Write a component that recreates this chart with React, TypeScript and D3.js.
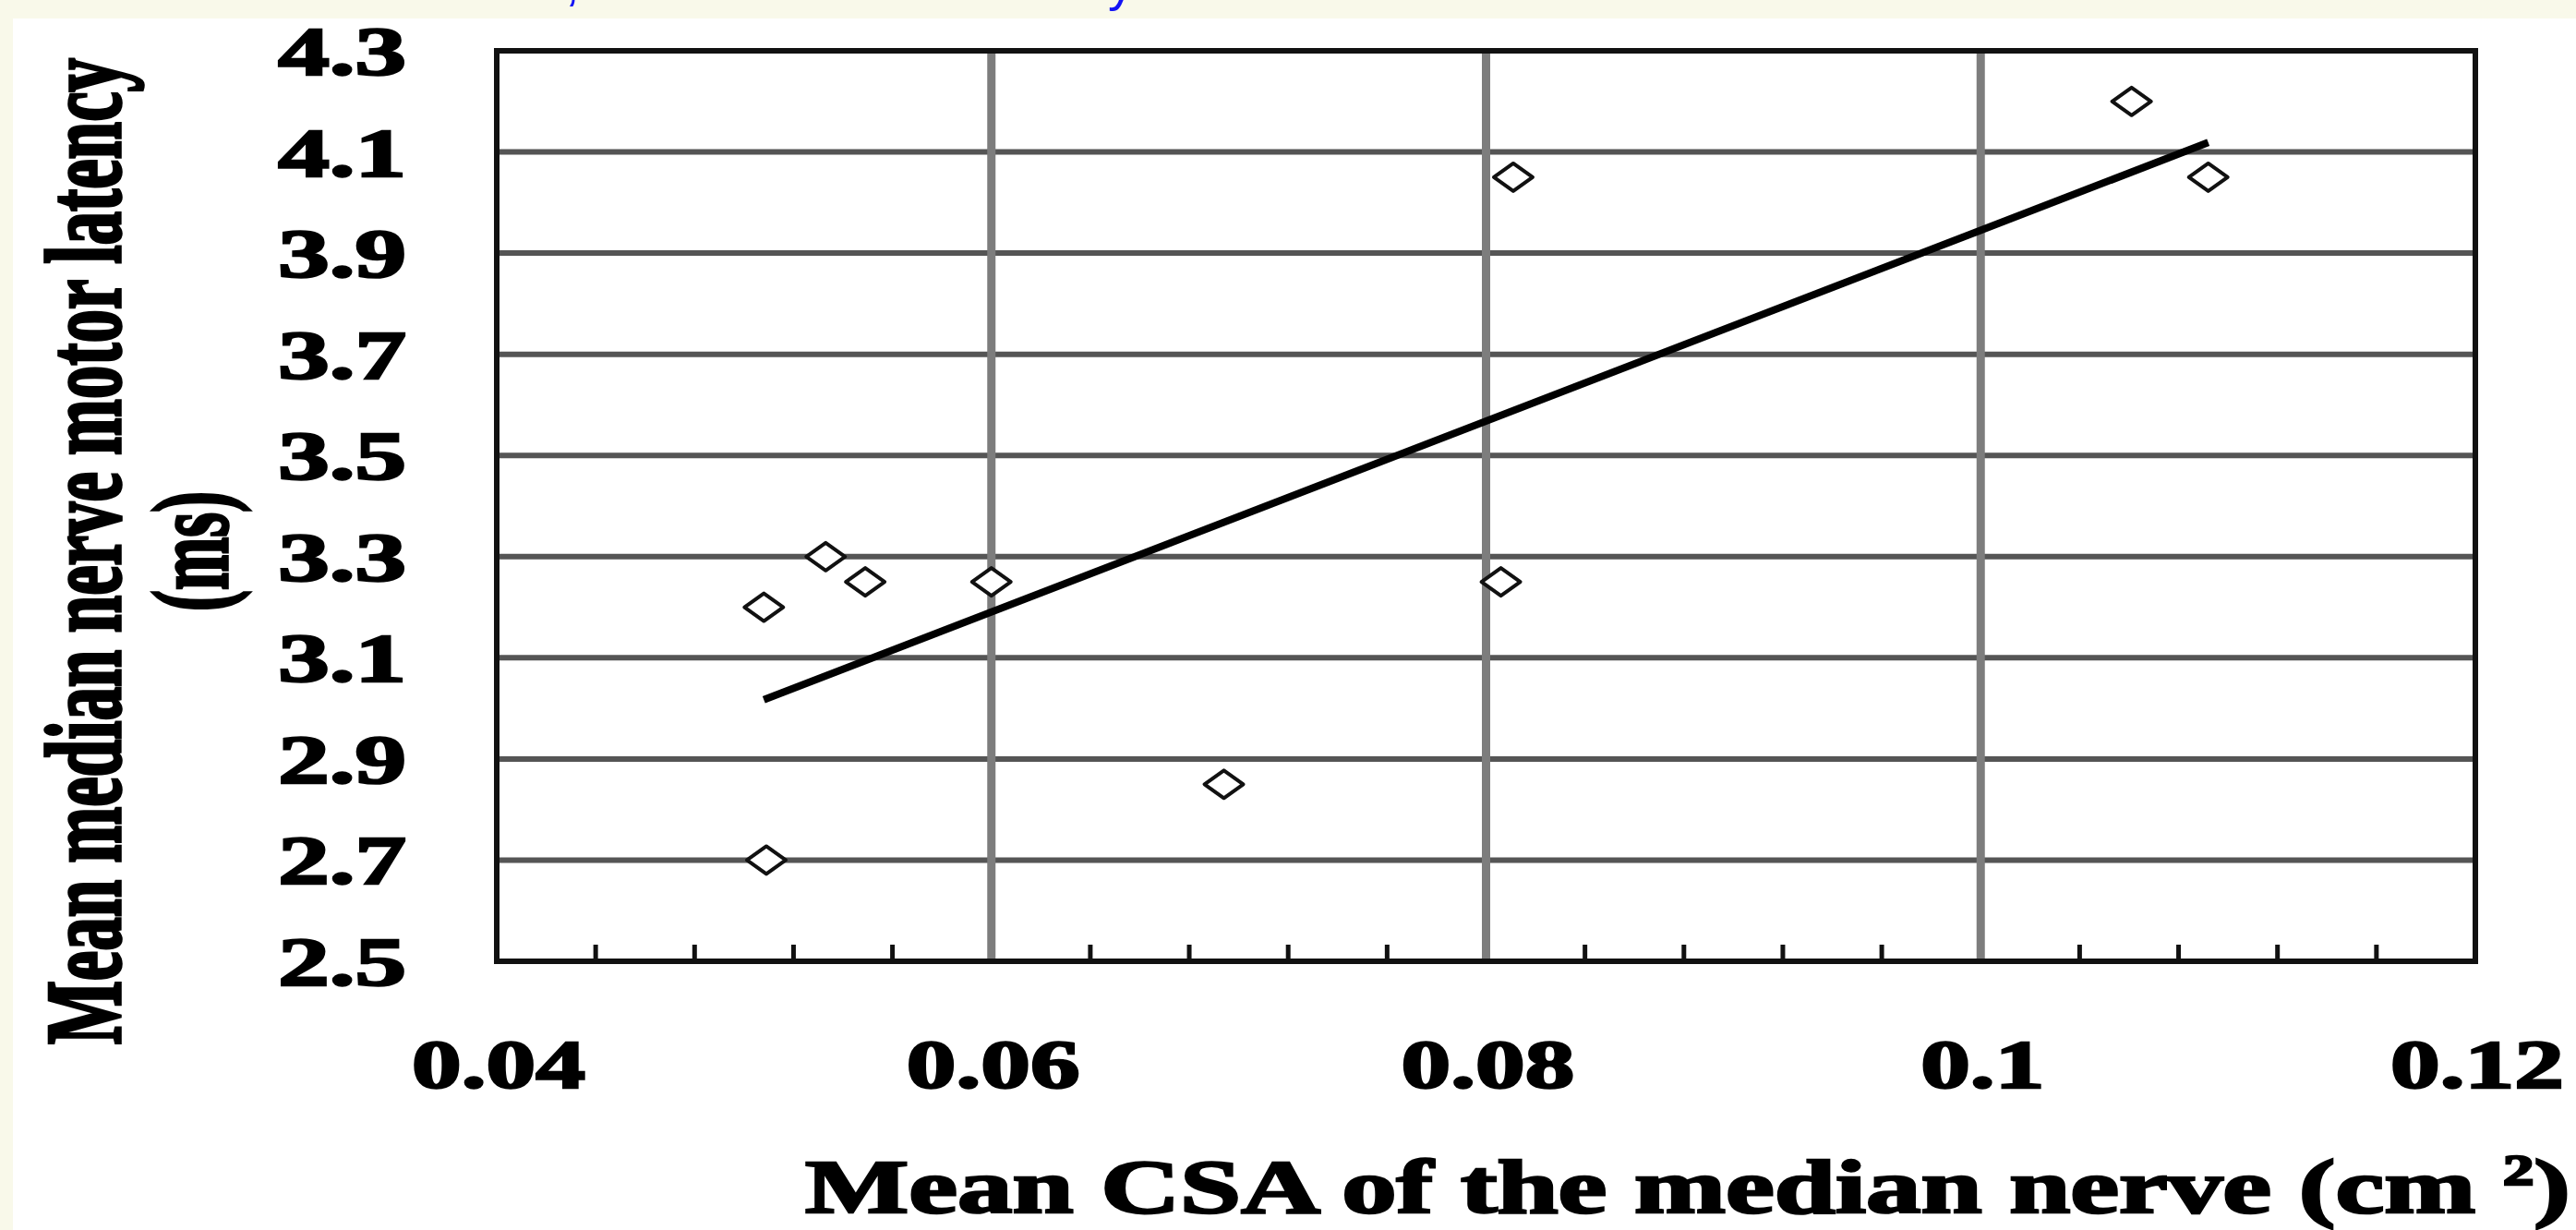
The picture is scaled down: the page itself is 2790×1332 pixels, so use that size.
import * as d3 from "d3";
import React, { useEffect, useRef } from 'react'

// mean CSA of the median nerve (cm2) and mean motor latency (ms), one pair per subject
const csa = [0.0508, 0.0533, 0.0549, 0.06, 0.0509, 0.0694, 0.0806, 0.0811, 0.1061, 0.1092]
const latency = [3.2, 3.3, 3.25, 3.25, 2.7, 2.85, 3.25, 4.05, 4.2, 4.05]

const xTicks = [0.04, 0.06, 0.08, 0.1, 0.12]
const xTickLabels = ["0.04", "0.06", "0.08", "0.1", "0.12"]
const yTicks = [2.5, 2.7, 2.9, 3.1, 3.3, 3.5, 3.7, 3.9, 4.1, 4.3]
const yTickLabels = ["2.5", "2.7", "2.9", "3.1", "3.3", "3.5", "3.7", "3.9", "4.1", "4.3"]
const minorPerMajor = 5

const W = 2790
const H = 1332
const plot = { left: 538, right: 2681, top: 55, bottom: 1041 }
const serif = "'Liberation Serif', 'Times New Roman', serif"

const drawChart = (el: SVGSVGElement) => {
  const svg = d3.select(el)
  svg.selectAll('*').remove()

  // page background and the white picture
  svg.append('rect').attr('width', W).attr('height', H).attr('fill', '#f9f9ea')
  svg.append('rect').attr('x', 14).attr('y', 20).attr('width', W - 14).attr('height', H - 20).attr('fill', '#ffffff')

  // cut off caption line above the picture (only descenders visible)
  svg.append('text').attr('x', 612).attr('y', 0).attr('fill', '#1414f5')
    .style('font-family', "'Liberation Sans', Arial, sans-serif").style('font-size', '56px').text(',')
  svg.append('text').attr('x', 1200).attr('y', 0).attr('fill', '#1414f5')
    .style('font-family', "'Liberation Sans', Arial, sans-serif").style('font-size', '56px').text('y')

  const x = d3.scaleLinear().domain([0.04, 0.12]).range([plot.left, plot.right])
  const y = d3.scaleLinear().domain([2.5, 4.3]).range([plot.bottom, plot.top])

  // grid
  svg.append('g').selectAll('line')
    .data(yTicks.slice(1, -1))
    .enter().append('line')
    .attr('x1', plot.left).attr('x2', plot.right)
    .attr('y1', (d) => y(d)).attr('y2', (d) => y(d))
    .attr('stroke', '#555').attr('stroke-width', 6)

  svg.append('g').selectAll('line')
    .data(xTicks.slice(1, -1))
    .enter().append('line')
    .attr('x1', (d) => x(d)).attr('x2', (d) => x(d))
    .attr('y1', plot.top).attr('y2', plot.bottom)
    .attr('stroke', '#7d7d7d').attr('stroke-width', 9)

  // minor ticks on the x axis, pointing inwards
  const step = (xTicks[1] - xTicks[0]) / minorPerMajor
  const minor = d3.range(1, (xTicks.length - 1) * minorPerMajor)
    .filter((i) => i % minorPerMajor !== 0)
    .map((i) => xTicks[0] + i * step)
  svg.append('g').selectAll('line')
    .data(minor)
    .enter().append('line')
    .attr('x1', (d) => x(d)).attr('x2', (d) => x(d))
    .attr('y1', plot.bottom).attr('y2', plot.bottom - 18)
    .attr('stroke', '#111').attr('stroke-width', 5)

  // frame
  svg.append('rect')
    .attr('x', plot.left).attr('y', plot.top)
    .attr('width', plot.right - plot.left).attr('height', plot.bottom - plot.top)
    .attr('fill', 'none').attr('stroke', '#111').attr('stroke-width', 6)

  // least squares trend line
  const mx = d3.mean(csa) as number
  const my = d3.mean(latency) as number
  const sxy = d3.sum(csa, (v, i) => (v - mx) * (latency[i] - my))
  const sxx = d3.sum(csa, (v) => (v - mx) * (v - mx))
  const slope = sxy / sxx
  const [x0, x1] = d3.extent(csa) as [number, number]
  const fit = [x0, x1].map((v) => [v, my + slope * (v - mx)]) as [number, number][]
  const line = d3.line()
    .x((d) => x(d[0]))
    .y((d) => y(d[1]))
  svg.append('path')
    .attr('d', line(fit))
    .attr('fill', 'none').attr('stroke', '#000').attr('stroke-width', 8)

  // points, hollow diamonds
  const dw = 21
  const dh = 15
  svg.append('g').selectAll('path')
    .data(csa)
    .enter().append('path')
    .attr('d', (d, i) => {
      const cx = x(d)
      const cy = y(latency[i])
      return `M${cx - dw},${cy}L${cx},${cy - dh}L${cx + dw},${cy}L${cx},${cy + dh}Z`
    })
    .attr('fill', '#fff').attr('stroke', '#111').attr('stroke-width', 4)
    .attr('stroke-linejoin', 'round')

  // tick labels
  svg.append('g').selectAll('text')
    .data(yTicks)
    .enter().append('text')
    .attr('transform', (d) => `translate(440,${y(d) + 26}) scale(1.5,1)`)
    .attr('text-anchor', 'end')
    .attr('stroke', '#000').attr('stroke-width', 2.5)
    .style('font-family', serif).style('font-weight', 'bold').style('font-size', '74px')
    .text((d, i) => yTickLabels[i])

  svg.append('g').selectAll('text')
    .data(xTicks)
    .enter().append('text')
    .attr('transform', (d) => `translate(${x(d) + 2},1178) scale(1.45,1)`)
    .attr('text-anchor', 'middle')
    .attr('stroke', '#000').attr('stroke-width', 2.5)
    .style('font-family', serif).style('font-weight', 'bold').style('font-size', '74px')
    .text((d, i) => xTickLabels[i])

  // x title, stretched to its width in the picture
  const xt = svg.append('text')
    .attr('text-anchor', 'start')
    .attr('stroke', '#000').attr('stroke-width', 2.5)
    .style('font-family', serif).style('font-weight', 'bold').style('font-size', '82px')
  xt.append('tspan').text('Mean CSA of the median nerve (cm ')
  xt.append('tspan').attr('dy', -30).style('font-size', '46px').text('2')
  xt.append('tspan').attr('dy', 30).text(')')
  const xtLen = (xt.node() as SVGTextElement).getComputedTextLength()
  xt.attr('transform', `translate(872,1313) scale(${1912 / xtLen},1)`)

  // y title, two rotated lines
  const yTitle = [
    { text: 'Mean median nerve motor latency', x: 130, len: 1068 },
    { text: '(ms)', x: 246, len: 130 },
  ]
  svg.append('g').selectAll('text')
    .data(yTitle)
    .enter().append('text')
    .attr('transform', (d) => `translate(${d.x},597) scale(1.45,1) rotate(-90)`)
    .attr('text-anchor', 'middle')
    .attr('textLength', (d) => d.len)
    .attr('lengthAdjust', 'spacingAndGlyphs')
    .attr('stroke', '#000').attr('stroke-width', 2.5)
    .style('font-family', serif).style('font-weight', 'bold').style('font-size', '80px')
    .text((d) => d.text)
}

export default function App() {
  const ref = useRef<SVGSVGElement>(null)

  useEffect(() => {
    if (ref.current) drawChart(ref.current)
  })

  return (
    <svg ref={ref} width={W} height={H}
      style={{ position: 'absolute', left: 0, top: 0, display: 'block' }} />
  )
}
